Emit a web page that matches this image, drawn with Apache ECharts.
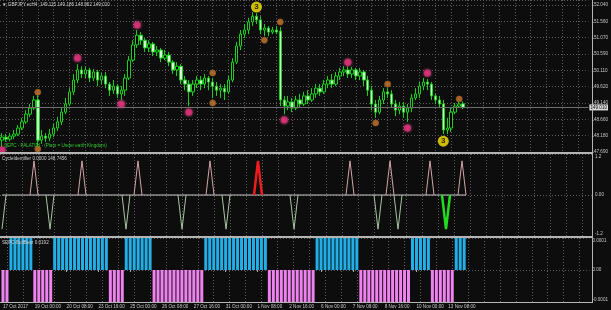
<!DOCTYPE html>
<html><head><meta charset="utf-8">
<script src="https://cdn.jsdelivr.net/npm/echarts@6/dist/echarts.min.js"></script>
<style>html,body{margin:0;padding:0;background:#0d0d0d;}#c{width:611px;height:310px;}</style>
</head><body><div id="c"></div>
<script>
// ---------- data ----------
const timeLabels = ['17 Oct 2017','19 Oct 00:00','20 Oct 08:00','23 Oct 16:00','25 Oct 00:00','26 Oct 08:00','27 Oct 16:00','31 Oct 00:00','1 Nov 08:00','2 Nov 16:00','6 Nov 00:00','7 Nov 08:00','8 Nov 16:00','10 Nov 00:00','13 Nov 08:00'];
const priceTicks = ['147.690','148.180','148.660','149.140','149.620','150.110','150.590','151.070','151.560','152.040'];
const slotCount = 148;

const opens  = [148.04,148.13,148.07,148.16,148.22,148.40,148.58,148.81,148.99,149.23,
  148.04,148.16,148.10,148.22,148.40,148.58,148.87,149.11,149.47,149.82,
  150.12,150.00,150.12,149.88,150.06,149.82,149.94,149.70,149.52,149.64,
  149.41,149.52,149.88,150.41,150.86,151.15,151.00,150.77,150.89,150.65,
  150.71,150.47,150.56,150.35,150.12,150.23,149.82,149.70,149.47,149.70,
  149.82,149.70,149.88,149.76,149.64,149.52,149.58,149.47,149.82,150.35,
  150.83,151.18,151.30,151.54,151.71,151.60,151.30,151.36,151.24,151.30,
  151.27,149.23,149.05,149.17,148.99,149.23,149.11,149.35,149.23,149.41,
  149.58,149.47,149.70,149.82,149.70,149.94,150.06,150.12,150.00,150.12,
  149.94,150.06,149.82,149.52,149.11,148.87,149.23,149.47,149.41,149.11,
  148.93,149.05,148.87,148.99,149.29,149.41,149.64,149.76,149.70,149.35,
  149.23,149.11,148.34,148.40,148.87,149.05,149.115];
const closes = [148.13,148.07,148.16,148.22,148.40,148.58,148.81,148.99,149.23,148.04,
  148.16,148.10,148.22,148.40,148.58,148.87,149.11,149.47,149.82,150.12,
  150.00,150.12,149.88,150.06,149.82,149.94,149.70,149.52,149.64,149.41,
  149.52,149.88,150.41,150.86,151.15,151.00,150.77,150.89,150.65,150.71,
  150.47,150.56,150.35,150.12,150.23,149.82,149.70,149.47,149.70,149.82,
  149.70,149.88,149.76,149.64,149.52,149.58,149.47,149.82,150.35,150.83,
  151.18,151.30,151.54,151.71,151.60,151.30,151.36,151.24,151.30,151.24,
  149.23,149.05,149.17,148.99,149.23,149.11,149.35,149.23,149.41,149.58,
  149.47,149.70,149.82,149.70,149.94,150.06,150.12,150.00,150.12,149.94,
  150.06,149.82,149.52,149.11,148.87,149.23,149.47,149.41,149.11,148.93,
  149.05,148.87,148.99,149.29,149.41,149.64,149.76,149.70,149.35,149.23,
  149.11,148.34,148.40,148.87,149.05,149.11,149.010];
const highs  = [148.25,148.22,148.25,148.34,148.49,148.70,148.93,149.11,149.35,149.38,
  148.34,148.25,148.37,148.52,148.73,148.99,149.29,149.58,150.00,150.29,
  150.23,150.21,150.18,150.15,150.12,150.03,150.06,149.76,149.82,149.70,
  149.64,150.00,150.53,151.00,151.30,151.24,151.06,151.00,150.95,150.83,
  150.77,150.71,150.65,150.41,150.35,150.29,149.94,149.82,149.82,149.94,
  149.94,150.00,149.94,149.88,149.76,149.70,149.70,149.94,150.47,150.95,
  151.30,151.48,151.66,151.83,151.80,151.71,151.48,151.42,151.39,151.42,
  151.39,149.35,149.35,149.29,149.35,149.41,149.47,149.52,149.58,149.70,
  149.70,149.82,149.94,150.00,150.06,150.18,150.23,150.23,150.21,150.18,
  150.18,150.12,149.94,149.64,149.23,149.35,149.58,149.58,149.52,149.23,
  149.17,149.17,149.11,149.41,149.58,149.76,149.88,149.85,149.76,149.41,
  149.35,149.23,148.70,148.99,149.14,149.20,149.186];
const lows   = [147.84,147.99,148.01,148.07,148.16,148.34,148.52,148.73,148.93,147.87,
  147.93,147.99,148.01,148.13,148.31,148.49,148.81,149.05,149.38,149.73,
  149.88,149.88,149.76,149.79,149.64,149.70,149.58,149.35,149.41,149.29,
  149.23,149.35,149.82,150.35,150.77,150.86,150.65,150.65,150.53,150.53,
  150.35,150.41,150.23,150.00,149.94,149.70,149.52,149.05,149.35,149.58,
  149.52,149.58,149.52,149.29,149.35,149.29,149.23,149.41,149.76,150.29,
  150.71,151.06,151.18,151.42,151.48,151.18,151.12,151.12,151.18,151.18,
  149.05,148.81,148.93,148.87,148.93,148.99,149.05,149.11,149.17,149.29,
  149.35,149.41,149.58,149.58,149.64,149.82,149.94,149.88,149.88,149.82,
  149.82,149.64,149.35,148.93,148.70,148.81,149.11,149.29,148.99,148.75,
  148.81,148.70,148.58,148.87,149.23,149.29,149.52,149.52,149.23,149.11,
  148.99,148.22,148.22,148.28,148.81,148.99,148.962];

// cycle markers on price pane: [bar index, price]
const pinkDots   = [[19,150.47],[34,151.45],[87,150.35],[107,150.03],[0,147.75],[30,149.11],[47,148.87],[71,148.64],[102,148.40]];
const orangeDots = [[9,149.46],[9,147.78],[53,150.03],[53,149.14],[66,151.00],[70,151.54],[94,148.55],[97,149.70],[115,149.26]];
const majorDots  = [[64,151.98],[111,148.01]];

// CycleIdentifier spikes (bar indices)
const cycleUpMinor   = [8,20,34,52,87,97,107,115];
const cycleDownMinor = [0,12,31,45,56,73,94,99];
const cycleUpMajor   = [64];
const cycleDownMajor = [111];
const cycleSpike = 1.0;

// SEPC-BullBear histogram ranges (bar indices, inclusive)
const bullRanges = [[2,7],[13,26],[31,37],[51,66],[79,89],[103,107],[114,116]];
const bearRanges = [[0,1],[8,12],[27,30],[38,50],[67,78],[90,102],[108,113]];
const bullBearLevel = 0.0001;

// ---------- build ----------
const nBars = closes.length;
const cats = [];
for (let i = 0; i < slotCount; i++) cats.push(String(i));
const candleData = [];
for (let i = 0; i < nBars; i++) candleData.push([opens[i], closes[i], lows[i], highs[i]]);

function spikeSeries(list, sign) {
  const d = new Array(slotCount).fill(null);
  list.forEach(i => {
    if (i - 1 >= 0) d[i - 1] = 0;
    d[i] = sign * cycleSpike;
    if (i + 1 < nBars) d[i + 1] = 0;
  });
  return d;
}
const baseLine = new Array(slotCount).fill(null);
for (let i = 0; i < nBars; i++) baseLine[i] = 0;

function rangeSeries(ranges, v) {
  const d = new Array(slotCount).fill(null);
  ranges.forEach(([a, b]) => { for (let i = a; i <= b; i++) d[i] = v; });
  return d;
}

const FONT = 'Liberation Sans, Arial, sans-serif';
const FS = 4.6;
const gridLineStyle = { color: '#5c5c5c', type: [1, 2], width: 1 };
const vSplit = { show: true, interval: (i) => i % 4 === 1, alignWithLabel: true, lineStyle: gridLineStyle };

function xAx(gi, showLabels) {
  return {
    type: 'category', gridIndex: gi, data: cats, boundaryGap: true,
    axisLine: { show: false },
    axisTick: { show: showLabels, alignWithLabel: true, length: 2, interval: (i) => i % 8 === 0 && i / 8 < timeLabels.length, lineStyle: { color: '#aaa' } },
    splitLine: vSplit,
    axisLabel: showLabels ? {
      show: true, interval: (i) => i % 8 === 0 && i / 8 < timeLabels.length,
      formatter: (v) => timeLabels[Number(v) / 8] || '', align: 'left', margin: 2,
      color: '#c8c8c8', fontSize: FS, fontFamily: FONT
    } : { show: false }
  };
}
const labelBase = { color: '#c8c8c8', fontSize: FS, fontFamily: FONT, margin: 3 };

const option = {
  backgroundColor: '#0d0d0d',
  animation: false,
  grid: [
    { left: 0, top: 0, width: 592, height: 152 },
    { left: 0, top: 154, width: 592, height: 82 },
    { left: 0, top: 238, width: 592, height: 64 }
  ],
  xAxis: [xAx(0, false), xAx(1, false), xAx(2, true)],
  yAxis: [
    { type: 'value', gridIndex: 0, position: 'right', min: 147.69, max: 152.19, interval: 0.48333,
      axisLine: { show: false }, axisTick: { show: false },
      splitLine: { show: true, lineStyle: gridLineStyle },
      axisLabel: Object.assign({ formatter: (v, idx) => priceTicks[idx] || '' }, labelBase) },
    { type: 'value', gridIndex: 1, position: 'right', min: -1.2, max: 1.2, interval: 1.2,
      axisLine: { show: false }, axisTick: { show: false },
      splitLine: { show: true, lineStyle: gridLineStyle },
      axisLabel: Object.assign({ formatter: (v) => v === 0 ? '0.00' : String(v), verticalAlignMaxLabel: 'top', verticalAlignMinLabel: 'bottom' }, labelBase) },
    { type: 'value', gridIndex: 2, position: 'right', min: -0.0001, max: 0.0001, interval: 0.0001,
      axisLine: { show: false }, axisTick: { show: false },
      splitLine: { show: true, lineStyle: gridLineStyle },
      axisLabel: Object.assign({ formatter: (v) => v === 0 ? '0.00' : (v > 0 ? '0.0001' : '-0.0001'), verticalAlignMaxLabel: 'top', verticalAlignMinLabel: 'bottom' }, labelBase) }
  ],
  series: [
    { type: 'candlestick', xAxisIndex: 0, yAxisIndex: 0, data: candleData, barWidth: 3,
      itemStyle: { color: '#000000', color0: '#d4f8d4', borderColor: '#1ccf1c', borderColor0: '#1ccf1c', borderWidth: 1 },
      markLine: { silent: true, symbol: 'none', data: [{ yAxis: closes[nBars - 1] }],
        lineStyle: { color: '#6e6e6e', type: 'solid', width: 1 },
        label: { position: 'end', distance: 1, formatter: () => closes[nBars - 1].toFixed(3), color: '#000', backgroundColor: '#dddddd', padding: [1, 1, 0, 1], fontSize: FS, fontFamily: FONT } } },
    { type: 'scatter', xAxisIndex: 0, yAxisIndex: 0, data: pinkDots, symbolSize: 7,
      itemStyle: { color: '#d82c74', shadowBlur: 3, shadowColor: '#ff60a0' }, z: 5 },
    { type: 'scatter', xAxisIndex: 0, yAxisIndex: 0, data: orangeDots, symbolSize: 6,
      itemStyle: { color: '#c87a30', borderColor: '#9a5a20', borderWidth: 1 }, z: 5 },
    { type: 'scatter', xAxisIndex: 0, yAxisIndex: 0, data: majorDots, symbolSize: 11,
      itemStyle: { color: '#ffe800' }, z: 6,
      label: { show: true, position: 'inside', formatter: '3', color: '#000', fontSize: 8, fontWeight: 'bold', fontFamily: FONT } },

    { type: 'line', xAxisIndex: 1, yAxisIndex: 1, data: baseLine, showSymbol: false, lineStyle: { color: '#c8c8c8', width: 1 }, z: 2 },
    { type: 'line', xAxisIndex: 1, yAxisIndex: 1, data: spikeSeries(cycleUpMinor, 1), showSymbol: false, connectNulls: false, lineStyle: { color: '#d4a6a6', width: 1 }, z: 3 },
    { type: 'line', xAxisIndex: 1, yAxisIndex: 1, data: spikeSeries(cycleDownMinor, -1), showSymbol: false, connectNulls: false, lineStyle: { color: '#a8c4a4', width: 1 }, z: 3 },
    { type: 'line', xAxisIndex: 1, yAxisIndex: 1, data: spikeSeries(cycleUpMajor, 1), showSymbol: false, connectNulls: false, lineStyle: { color: '#ee1c1c', width: 2.5 }, z: 4 },
    { type: 'line', xAxisIndex: 1, yAxisIndex: 1, data: spikeSeries(cycleDownMajor, -1), showSymbol: false, connectNulls: false, lineStyle: { color: '#22dd22', width: 2.5 }, z: 4 },

    { type: 'bar', xAxisIndex: 2, yAxisIndex: 2, data: rangeSeries(bullRanges, bullBearLevel), barWidth: 3, barGap: '-100%', itemStyle: { color: '#22aee6' } },
    { type: 'bar', xAxisIndex: 2, yAxisIndex: 2, data: rangeSeries(bearRanges, -bullBearLevel), barWidth: 3, barGap: '-100%', itemStyle: { color: '#ee82ee' } }
  ],
  graphic: [
    { type: 'rect', z: 100, shape: { x: 0, y: 152, width: 592, height: 2 }, style: { fill: '#b4b4b4' } },
    { type: 'rect', z: 100, shape: { x: 0, y: 236, width: 592, height: 2 }, style: { fill: '#b4b4b4' } },
    { type: 'rect', z: 100, shape: { x: 0, y: 302, width: 593, height: 1 }, style: { fill: '#b4b4b4' } },
    { type: 'rect', z: 100, shape: { x: 592, y: 0, width: 1, height: 303 }, style: { fill: '#b4b4b4' } },
    { type: 'text', z: 100, left: 2, top: 2, style: { text: '\u25BC GBPJPY.ecH4  149.115 149.186 148.962 149.010', fill: '#d0d0d0', font: FS + 'px ' + FONT } },
    { type: 'text', z: 100, left: 4, top: 143, style: { text: 'SEPC - FALATIRI - (Plato = Under earth Kingdom)', fill: '#30c830', font: FS + 'px ' + FONT } },
    { type: 'text', z: 100, left: 2, top: 156, style: { text: 'CycleIdentifier 0.0000 148.7456', fill: '#d0d0d0', font: FS + 'px ' + FONT } },
    { type: 'text', z: 100, left: 2, top: 240, style: { text: 'SEPC-BullBear 0.0192', fill: '#d0d0d0', font: FS + 'px ' + FONT } }
  ]
};
const chart = echarts.init(document.getElementById('c'), null, { renderer: 'canvas' });
chart.setOption(option);
</script></body></html>
